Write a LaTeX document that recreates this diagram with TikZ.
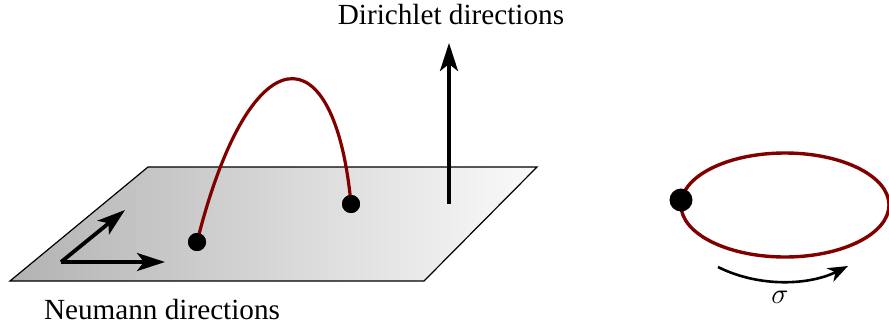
\documentclass[tikz,border=0pt]{standalone}
\usepackage{fontspec}
\setmainfont{Liberation Serif}
\usetikzlibrary{arrows.meta,shapes.geometric}
\definecolor{strcol}{RGB}{128,0,0}
\tikzset{
  px/.style={x=0.5pt,y=-0.5pt},
  dirarrow/.style={line width=1.9pt,-{Stealth[length=14pt,width=9pt,inset=3.5pt]}},
  stringline/.style={draw=strcol,line width=1.6pt},
  enddot/.style={circle,fill=black,inner sep=0pt,minimum size=9pt},
  lbl/.style={font=\fontsize{14.6}{17}\selectfont,inner sep=0pt}
}
\begin{document}
\begin{tikzpicture}[px]
\useasboundingbox (0,0) rectangle (889,327);
% brane
\coordinate (p1) at (148,167);
\coordinate (p2) at (537,167);
\coordinate (p3) at (424,281);
\coordinate (p4) at (10,281);
\shade[left color=black!30,right color=black!2] (p1) -- (p2) -- (p3) -- (p4) -- cycle;
\draw[line width=0.6pt,line join=miter] (p1) -- (p2) -- (p3) -- (p4) -- cycle;
% Neumann arrows
\coordinate (o) at (61,262);
\coordinate (nx) at (165,262);
\coordinate (ny) at (125,210);
\draw[dirarrow] (o) -- (nx);
\draw[dirarrow] (o) -- (ny);
\node[lbl] (nlab) at (162,310) {Neumann directions};
% Dirichlet arrow
\coordinate (d0) at (449,204);
\coordinate (d1) at (449,43);
\draw[dirarrow] (d0) -- (d1);
\node[lbl] (dlab) at (451,15) {Dirichlet directions};
% open string
\node[enddot] (e1) at (197,242) {};
\node[enddot] (e2) at (351,204) {};
\draw[stringline] (e1.center) .. controls (250,31) and (335,31) .. (e2.center);
\node[enddot] at (197,242) {};
\node[enddot] at (351,204) {};
% closed string
\draw[stringline,line width=1.7pt] (785,205) ellipse [x radius=104, y radius=52];
\node[enddot,minimum size=11.5pt] (c1) at (681,200) {};
\coordinate (s0) at (718,267);
\coordinate (s1) at (848,266);
\draw[line width=1.3pt,-{Stealth[length=10pt,width=7.5pt,inset=3pt]}] (s0) .. controls (760,288) and (810,285) .. (s1);
\node[lbl] (sig) at (780,297) {$\sigma$};
\end{tikzpicture}
\end{document}
